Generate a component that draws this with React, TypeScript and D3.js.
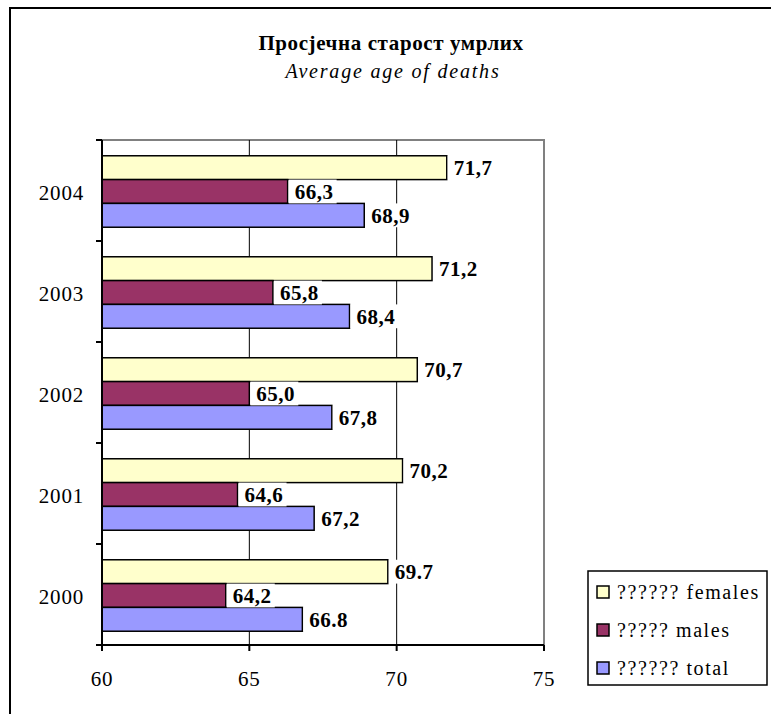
import { useMemo } from 'react';
import * as d3 from 'd3';

const YEARS = ['2004', '2003', '2002', '2001', '2000'];
const SERIES = ['females', 'males', 'total'];
const SERIES_NAMES = ['?????? females', '????? males', '?????? total'];
const FEMALES = [71.7, 71.2, 70.7, 70.2, 69.7];
const MALES = [66.3, 65.8, 65.0, 64.6, 64.2];
const TOTAL = [68.9, 68.4, 67.8, 67.2, 66.8];
const FEMALE_LABELS = ['71,7', '71,2', '70,7', '70,2', '69.7'];
const MALE_LABELS = ['66,3', '65,8', '65,0', '64,6', '64,2'];
const TOTAL_LABELS = ['68,9', '68,4', '67,8', '67,2', '66.8'];
const X_TICKS = [60, 65, 70, 75];

const COLORS = ['#FFFFCC', '#993366', '#9999FF'];
const FONT = "'Liberation Serif', 'Times New Roman', serif";

export default function App() {
  const width = 771;
  const height = 714;
  const plot = { left: 102, right: 544, top: 140, bottom: 645 };

  const x = d3.scaleLinear().domain([60, 75]).range([plot.left, plot.right]);
  const y = d3.scaleBand().domain(YEARS).range([plot.top, plot.bottom]);
  const inner = d3.scaleBand().domain(SERIES).range([0, y.bandwidth()]).paddingOuter(0.62).paddingInner(0);

  const values = [FEMALES, MALES, TOTAL];
  const labels = [FEMALE_LABELS, MALE_LABELS, TOTAL_LABELS];

  const bars = useMemo(() => {
    const out: { key: string; x1: number; y0: number; h: number; color: string; label: string }[] = [];
    YEARS.forEach((yr, i) => {
      SERIES.forEach((s, j) => {
        out.push({
          key: `${yr}-${s}`,
          x1: x(values[j][i]),
          y0: (y(yr) ?? 0) + (inner(s) ?? 0) + 1,
          h: inner.bandwidth(),
          color: COLORS[j],
          label: labels[j][i],
        });
      });
    });
    return out;
  }, []);

  const bandEdges = [...YEARS.map((yr) => y(yr) ?? 0), plot.bottom];

  return (
    <svg
      width={width}
      height={height}
      style={{ position: 'absolute', left: 0, top: 0, background: '#fff', fontFamily: FONT }}
    >
      {/* outer frame */}
      <rect x={10} y={8} width={790} height={740} fill="#fff" stroke="#000" strokeWidth={2} />

      {/* titles */}
      <text x={391} y={50} textAnchor="middle" fontSize={21} fontWeight="bold" letterSpacing={0.6} style={{ fontFamily: FONT }}>
        Просјечна старост умрлих
      </text>
      <text x={393} y={78} textAnchor="middle" fontSize={20} fontStyle="italic" letterSpacing={1.8} style={{ fontFamily: FONT }}>
        Average age of deaths
      </text>

      {/* plot frame top/right */}
      <path
        d={`M${plot.left},${plot.top}H${plot.right}V${plot.bottom}`}
        fill="none"
        stroke="#808080"
        strokeWidth={2}
      />

      {/* gridlines */}
      {X_TICKS.slice(1, -1).map((t) => (
        <line key={t} x1={x(t)} x2={x(t)} y1={plot.top} y2={plot.bottom} stroke="#000" strokeWidth={1} />
      ))}

      {/* bars */}
      {bars.map((b) => (
        <rect
          key={b.key}
          x={plot.left}
          y={b.y0}
          width={b.x1 - plot.left}
          height={b.h}
          fill={b.color}
          stroke="#000"
          strokeWidth={1.5}
        />
      ))}

      {/* data labels */}
      {bars.map((b) => (
        <g key={`l-${b.key}`}>
          <rect x={b.x1 + 1} y={b.y0} width={b.label.length * 10.5 + 6} height={b.h} fill="#fff" />
          <text
            x={b.x1 + 7}
            y={b.y0 + b.h / 2}
            dy="0.35em"
            fontSize={21}
            fontWeight="bold"
            letterSpacing={0.5}
            style={{ fontFamily: FONT }}
          >
            {b.label}
          </text>
        </g>
      ))}

      {/* y axis */}
      <line x1={plot.left} x2={plot.left} y1={plot.top} y2={plot.bottom} stroke="#000" strokeWidth={2} />
      {bandEdges.map((e, i) => (
        <line key={i} x1={plot.left - 6} x2={plot.left} y1={e} y2={e} stroke="#000" strokeWidth={2} />
      ))}
      {YEARS.map((yr) => (
        <text
          key={yr}
          x={84}
          y={(y(yr) ?? 0) + y.bandwidth() / 2 + 2}
          dy="0.35em"
          textAnchor="end"
          fontSize={21}
          letterSpacing={0.8}
          style={{ fontFamily: FONT }}
        >
          {yr}
        </text>
      ))}

      {/* x axis */}
      <line x1={plot.left} x2={plot.right} y1={plot.bottom} y2={plot.bottom} stroke="#000" strokeWidth={2} />
      {X_TICKS.map((t) => (
        <g key={t}>
          <line x1={x(t)} x2={x(t)} y1={plot.bottom} y2={plot.bottom + 6} stroke="#000" strokeWidth={2} />
          <text x={x(t)} y={686} textAnchor="middle" fontSize={21} letterSpacing={0.8} style={{ fontFamily: FONT }}>
            {t}
          </text>
        </g>
      ))}

      {/* legend */}
      <rect x={588} y={571} width={179} height={114} fill="#fff" stroke="#000" strokeWidth={1.5} />
      {SERIES_NAMES.map((name, i) => (
        <g key={name} transform={`translate(597, ${592 + i * 38})`}>
          <rect x={0} y={-6} width={12} height={12} fill={COLORS[i]} stroke="#000" strokeWidth={1.5} />
          <text x={20} y={0} dy="0.35em" fontSize={20} letterSpacing={1.6} style={{ fontFamily: FONT }}>
            {name}
          </text>
        </g>
      ))}
    </svg>
  );
}
